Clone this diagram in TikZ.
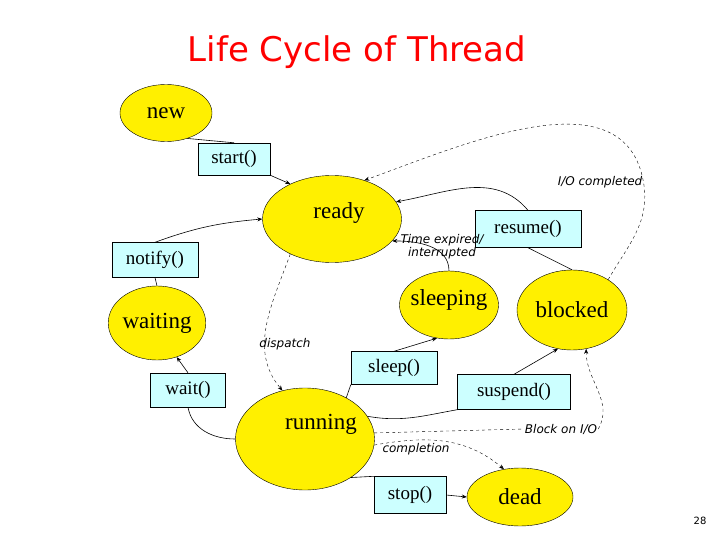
\documentclass[tikz,border=0pt]{standalone}
\usepackage{fontspec}
\setmainfont{Liberation Serif}
\newfontfamily\lsans{DejaVu Sans}
\usetikzlibrary{shapes.geometric,arrows.meta}
\definecolor{stateY}{RGB}{255,240,0}
\definecolor{boxC}{RGB}{204,255,255}
\begin{document}
\begin{tikzpicture}[x=1pt,y=-1pt,
  st/.style={ellipse,draw,fill=stateY,inner sep=0pt,font=\fontsize{23}{23}\selectfont},
  mb/.style={rectangle,draw,fill=boxC,inner sep=0pt,font=\fontsize{19}{19}\selectfont},
  lb/.style={font=\lsans\itshape\fontsize{12}{13}\selectfont,align=center,inner sep=1pt},
  ar/.style={-{Stealth[length=5pt,width=4pt]},semithick},
  ln/.style={semithick},
  dl/.style={-{Stealth[length=5pt,width=4pt]},dashed}]
\useasboundingbox (0,0) rectangle (720,540);
\node[font=\lsans\fontsize{34}{34}\selectfont,text=red] (title) at (357,52) {Life Cycle of Thread};
\node[font=\lsans\fontsize{10}{10}\selectfont] (pg) at (700,521) {28};
\node[st,minimum width=92,minimum height=57] (new) at (166,113) {new};
\node[mb,minimum width=72,minimum height=32] (start) at (234,159) {start()};
\node[st,minimum width=139,minimum height=87] (ready) at (332,219) {};
\node[font=\fontsize{23}{23}\selectfont] (readyt) at (339,213) {ready};
\node[mb,minimum width=86,minimum height=35] (notify) at (155,260) {notify()};
\node[st,minimum width=96,minimum height=74] (waiting) at (157,323) {waiting};
\node[mb,minimum width=106,minimum height=37] (resume) at (528,229) {resume()};
\node[st,minimum width=99,minimum height=68] (sleeping) at (449,305) {};
\node[font=\fontsize{23}{23}\selectfont] (sleept) at (449,300) {sleeping};
\node[st,minimum width=110,minimum height=80] (blocked) at (572,310) {blocked};
\node[mb,minimum width=86,minimum height=33] (sleep) at (394,368) {sleep()};
\node[mb,minimum width=75,minimum height=34] (wait) at (188,390) {wait()};
\node[mb,minimum width=113,minimum height=35] (suspend) at (514,392) {suspend()};
\node[st,minimum width=139,minimum height=102] (running) at (305,439) {};
\node[font=\fontsize{23}{23}\selectfont] (runt) at (321,424) {running};
\node[mb,minimum width=72,minimum height=37] (stop) at (410,495) {stop()};
\node[st,minimum width=106,minimum height=58] (dead) at (520,497) {dead};
\node[lb] (lio) at (600,182) {I/O completed};
\node[lb] (lte) at (442,247) {Time expired/\\interrupted};
\node[lb] (ldis) at (285,344) {dispatch};
\node[lb] (lblk) at (561,429) {Block on I/O};
\node[lb] (lcomp) at (416,449) {completion};
% connectors
\draw[ln] (new.-50) -- (start.north);
\draw[ar] (start.south east) -- (ready.140);
\draw[ln] (waiting.north) -- (notify.south);
\draw[ar] (notify.north) to[out=20,in=185] (ready.180);
\draw[ln] (running.180) to[out=180,in=-80] (wait.south);
\draw[ar] (wait.north) -- (waiting.-60);
\draw[dl] (ready.-140) to[out=-110,in=130] (running.115);
\draw[ln] (running.45) -- (sleep.south west);
\draw[ar] (sleep.north) -- (sleeping.-110);
\draw[ar] (sleeping.north) to[out=90,in=0] (ready.-20);
\draw[ln] (blocked.north) -- (resume.south);
\draw[ar] (resume.north) to[out=130,in=10] (ready.15);
\draw[dl] (blocked.40) to[out=60,in=-80] (lio.east) to[out=100,in=20] (ready.50);
\draw[ln] (running.20) to[out=-10,in=190] (suspend.south west);
\draw[ar] (suspend.north) -- (blocked.-110);
\draw[dl] (running.5) -- (lblk.west) (lblk.east) to[out=60,in=-90] (blocked.-70);
\draw[dl] (running.-5) to[out=10,in=140] (dead.120);
\draw[ln] (running.-40) -- (stop.north west);
\draw[ar] (stop.east) -- (dead.west);
\end{tikzpicture}
\end{document}
